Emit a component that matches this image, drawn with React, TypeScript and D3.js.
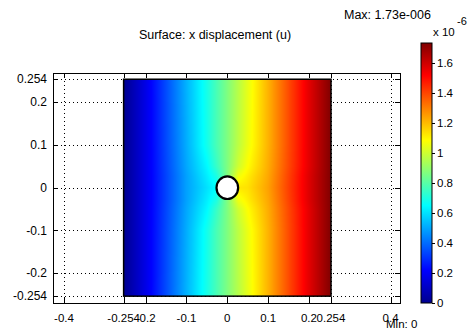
import * as d3 from "d3";
import React, { useEffect, useRef } from "react";

// axis ticks
const xTicks = [-0.4, -0.254, -0.2, -0.1, 0, 0.1, 0.2, 0.254, 0.4];
const xTickLabels = ["-0.4", "-0.254", "-0.2", "-0.1", "0", "0.1", "0.2", "0.254", "0.4"];
const yTicks = [0.254, 0.2, 0.1, 0, -0.1, -0.2, -0.254];
const yTickLabels = ["0.254", "0.2", "0.1", "0", "-0.1", "-0.2", "-0.254"];
const cbTicks = [0, 0.2, 0.4, 0.6, 0.8, 1, 1.2, 1.4, 1.6];
const cbTickLabels = ["0", "0.2", "0.4", "0.6", "0.8", "1", "1.2", "1.4", "1.6"];

const uMin = 0;
const uMax = 1.73; // x 10^-6

// plate and hole
const plate = { x0: -0.254, x1: 0.254, y0: -0.254, y1: 0.254 };
const holeR = 0.0265;

// sampled displacement u (x 1e-6) on a coarse grid, estimated from the colours
const gridX = [-0.254, -0.2, -0.1, -0.05, -0.027, 0, 0.027, 0.05, 0.1, 0.2, 0.254];
const gridY = [0.254, 0.1, 0.05, 0.027, 0, -0.027, -0.05, -0.1, -0.254];
const uEdge = [0, 0.17, 0.52, 0.69, 0.77, 0.865, 0.96, 1.04, 1.21, 1.56, 1.73];
const uFar = [0, 0.17, 0.51, 0.68, 0.77, 0.865, 0.97, 1.05, 1.21, 1.56, 1.73];
const uNear = [0, 0.17, 0.5, 0.64, 0.74, 0.865, 1.0, 1.08, 1.22, 1.56, 1.73];
const uClose = [0, 0.17, 0.49, 0.62, 0.69, 0.865, 1.06, 1.11, 1.23, 1.57, 1.73];
const uMid = [0, 0.17, 0.49, 0.6, 0.65, 0.865, 1.12, 1.13, 1.24, 1.57, 1.73];
const uRows = [uEdge, uFar, uNear, uClose, uMid, uClose, uNear, uFar, uEdge];

// jet colormap
const jetStops = [0, 0.125, 0.375, 0.625, 0.875, 1];
const jetColors = ["#00008f", "#0000ff", "#00ffff", "#ffff00", "#ff0000", "#800000"];

const W = 467;
const H = 332;
const box = { left: 53, right: 400, top: 73, bottom: 303 };
const cb = { left: 421, right: 432, top: 43, bottom: 303 };
const font = "'Liberation Sans', Arial, sans-serif";

const x = d3.scaleLinear().domain([-0.427, 0.423]).range([box.left, box.right]);
const y = d3.scaleLinear().domain([-0.27, 0.2686]).range([box.bottom, box.top]);
const cbY = d3.scaleLinear().domain([uMin, uMax]).range([cb.bottom, cb.top]);
const jet = d3
  .scaleLinear<string>()
  .domain(jetStops.map((t) => uMin + t * (uMax - uMin)))
  .range(jetColors)
  .clamp(true);

export default function App() {
  const imgRef = useRef<SVGImageElement | null>(null);

  const px0 = x(plate.x0);
  const px1 = x(plate.x1);
  const py0 = y(plate.y1);
  const py1 = y(plate.y0);

  useEffect(() => {
    const w = Math.round(px1 - px0);
    const h = Math.round(py1 - py0);
    const canvas = document.createElement("canvas");
    canvas.width = w;
    canvas.height = h;
    const ctx = canvas.getContext("2d");
    if (!ctx) return;
    const rowScales = uRows.map((r) => d3.scaleLinear().domain(gridX).range(r));
    const colDomain = gridY.slice().reverse();
    const img = ctx.createImageData(w, h);
    for (let j = 0; j < h; j++) {
      const dy = y.invert(py0 + ((j + 0.5) * (py1 - py0)) / h);
      for (let i = 0; i < w; i++) {
        const dx = x.invert(px0 + ((i + 0.5) * (px1 - px0)) / w);
        const colVals = rowScales.map((s) => s(dx)).reverse();
        const u = d3.scaleLinear().domain(colDomain).range(colVals)(dy);
        const c = d3.rgb(jet(u));
        const k = (j * w + i) * 4;
        img.data[k] = c.r;
        img.data[k + 1] = c.g;
        img.data[k + 2] = c.b;
        img.data[k + 3] = 255;
      }
    }
    ctx.putImageData(img, 0, 0);
    imgRef.current?.setAttribute("href", canvas.toDataURL());
  }, []);

  return (
    <svg
      width={W}
      height={H}
      viewBox={`0 0 ${W} ${H}`}
      style={{ position: "fixed", left: 0, top: 0, background: "#fff" }}
      fontFamily={font}
    >
      <defs>
        <linearGradient id="cbGrad" x1="0" y1="1" x2="0" y2="0">
          {jetStops.map((t, i) => (
            <stop key={i} offset={t} stopColor={jetColors[i]} />
          ))}
        </linearGradient>
      </defs>

      {/* grid */}
      <g stroke="#000" strokeWidth={1} strokeDasharray="1,3">
        {xTicks.map((t) => (
          <line key={"gx" + t} x1={Math.round(x(t)) + 0.5} x2={Math.round(x(t)) + 0.5} y1={box.top} y2={box.bottom} />
        ))}
        {yTicks.map((t) => (
          <line key={"gy" + t} x1={box.left} x2={box.right} y1={Math.round(y(t)) + 0.5} y2={Math.round(y(t)) + 0.5} />
        ))}
      </g>

      {/* surface */}
      <image ref={imgRef} x={px0} y={py0} width={px1 - px0} height={py1 - py0} preserveAspectRatio="none" />
      <rect x={px0} y={py0} width={px1 - px0} height={py1 - py0} fill="none" stroke="#000" strokeWidth={1.5} />
      <ellipse
        cx={x(0)}
        cy={y(0)}
        rx={x(holeR) - x(0)}
        ry={y(0) - y(holeR)}
        fill="#fff"
        stroke="#000"
        strokeWidth={2.2}
      />

      {/* axes box with inward ticks */}
      <rect
        x={box.left + 0.5}
        y={box.top + 0.5}
        width={box.right - box.left}
        height={box.bottom - box.top}
        fill="none"
        stroke="#000"
      />
      <g stroke="#000" strokeWidth={1}>
        {xTicks.map((t) => (
          <g key={"tx" + t}>
            <line x1={Math.round(x(t)) + 0.5} x2={Math.round(x(t)) + 0.5} y1={box.bottom} y2={box.bottom - 5} />
            <line x1={Math.round(x(t)) + 0.5} x2={Math.round(x(t)) + 0.5} y1={box.top} y2={box.top + 5} />
          </g>
        ))}
        {yTicks.map((t) => (
          <g key={"ty" + t}>
            <line x1={box.left} x2={box.left + 5} y1={Math.round(y(t)) + 0.5} y2={Math.round(y(t)) + 0.5} />
            <line x1={box.right} x2={box.right - 5} y1={Math.round(y(t)) + 0.5} y2={Math.round(y(t)) + 0.5} />
          </g>
        ))}
      </g>

      {/* tick labels */}
      <g fontSize={11.5} fill="#000">
        {xTicks.map((t, i) => (
          <text key={"lx" + t} x={x(t)} y={322} textAnchor="middle">
            {xTickLabels[i]}
          </text>
        ))}
      </g>
      <g fontSize={12} fill="#000">
        {yTicks.map((t, i) => (
          <text key={"ly" + t} x={47} y={y(t)} dy="0.35em" textAnchor="end">
            {yTickLabels[i]}
          </text>
        ))}
      </g>

      {/* title and min / max */}
      <text x={215} y={39} fontSize={12.5} textAnchor="middle">
        Surface: x displacement (u)
      </text>
      <text x={344} y={19} fontSize={12.5}>
        Max: 1.73e-006
      </text>
      <text x={386} y={328} fontSize={11.5}>
        Min: 0
      </text>

      {/* colorbar */}
      <rect x={cb.left} y={cb.top} width={cb.right - cb.left} height={cb.bottom - cb.top} fill="url(#cbGrad)" stroke="#000" strokeWidth={1} />
      <g stroke="#000">
        {cbTicks.map((t) => (
          <line key={"cbt" + t} x1={cb.right} x2={cb.right + 3} y1={Math.round(cbY(t)) + 0.5} y2={Math.round(cbY(t)) + 0.5} />
        ))}
      </g>
      <g fontSize={11.5}>
        {cbTicks.map((t, i) => (
          <text key={"cbl" + t} x={437} y={cbY(t)} dy="0.35em">
            {cbTickLabels[i]}
          </text>
        ))}
      </g>
      <text x={433} y={36} fontSize={11.5}>
        x 10
      </text>
      <text x={457} y={25} fontSize={11}>
        -6
      </text>
    </svg>
  );
}
